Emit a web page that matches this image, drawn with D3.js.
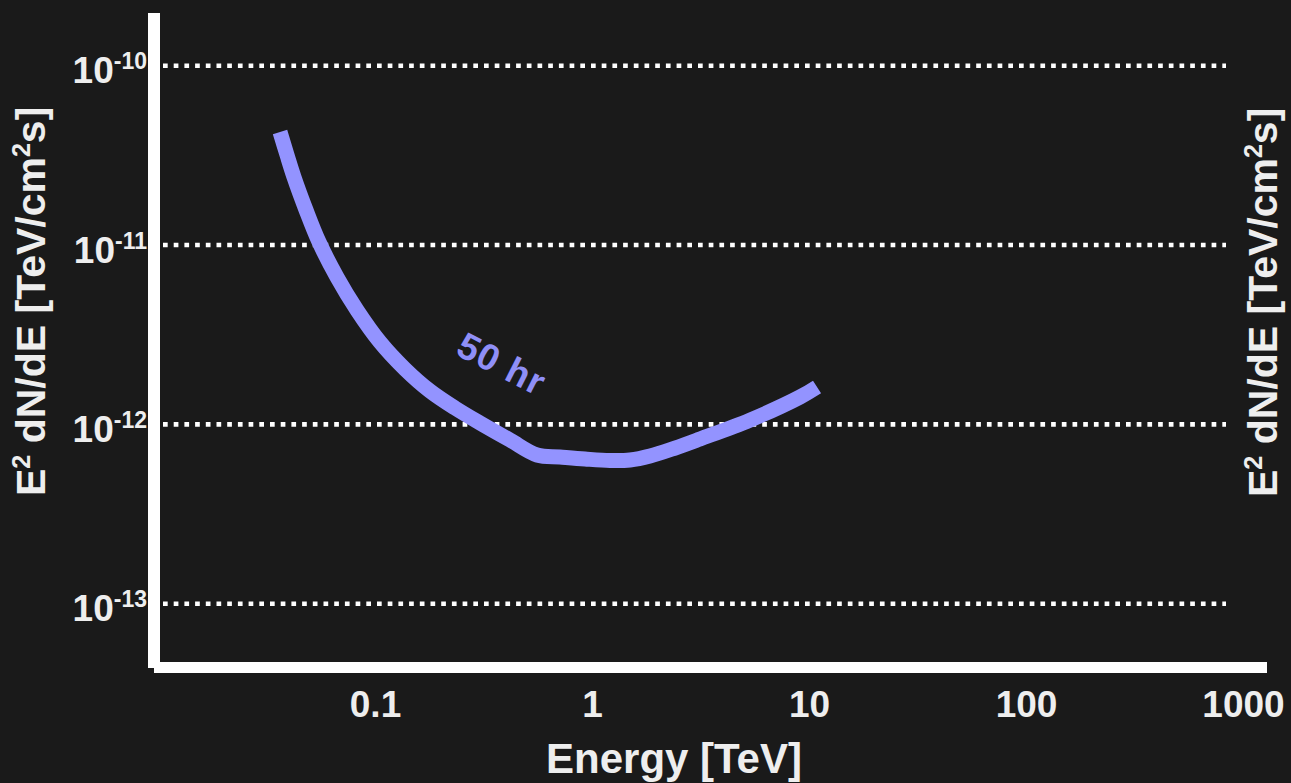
<!DOCTYPE html>
<html>
<head>
<meta charset="UTF-8">
<title>Sensitivity 50 hr</title>
<script src="https://d3js.org/d3.v7.min.js"></script>
<style>
  html, body { margin: 0; padding: 0; background: #1a1a1a; overflow: hidden; }
  svg { display: block; }
  text { font-family: "Liberation Sans", Arial, sans-serif; font-weight: bold; fill: #eeeeee; }
</style>
</head>
<body>
<svg id="chart" width="1291" height="783"></svg>
<script>
// --- data ---
const energy = [0.0365, 0.0393, 0.0423, 0.0481, 0.0552, 0.0668, 0.0826, 0.1054, 0.1375, 0.1793, 0.2337, 0.3047,
                0.4188, 0.5578, 0.7119, 0.9284, 1.210, 1.497, 1.851, 2.413, 3.146, 5.349, 9.09, 10.89];
const flux   = [4.27e-11, 3.18e-11, 2.40e-11, 1.568e-11, 1.040e-11, 6.63e-12, 4.34e-12, 2.88e-12, 2.035e-12, 1.535e-12, 1.234e-12, 1.018e-12,
                8.18e-13, 6.75e-13, 6.58e-13, 6.41e-13, 6.29e-13, 6.33e-13, 6.66e-13, 7.38e-13, 8.29e-13, 1.057e-12, 1.421e-12, 1.616e-12];
const xTicks = [0.1, 1, 10, 100, 1000];
const xTickLabels = ["0.1", "1", "10", "100", "1000"];
const yTicks = [1e-10, 1e-11, 1e-12, 1e-13];
const yTickExp = ["-10", "-11", "-12", "-13"];
const curveLabel = { text: "50 hr", e: 0.361, f: 1.88e-12 };

const svg = d3.select("#chart");

// scales (log-log)
const x = d3.scaleLog().domain([0.1, 1000]).range([375, 1243]);
const y = d3.scaleLog().domain([1e-13, 1e-10]).range([603.7, 65.7]);

// dotted gridlines
svg.append("g").selectAll("line")
  .data(yTicks).join("line")
  .attr("x1", 163).attr("x2", 1226)
  .attr("y1", d => y(d)).attr("y2", d => y(d))
  .attr("stroke", "#ffffff")
  .attr("stroke-width", 4.6)
  .attr("stroke-dasharray", "4.7 6");

// axis lines
svg.append("line").attr("x1", 154).attr("x2", 154).attr("y1", 13).attr("y2", 668)
  .attr("stroke", "#ffffff").attr("stroke-width", 12);
svg.append("line").attr("x1", 154).attr("x2", 1267).attr("y1", 667.5).attr("y2", 667.5)
  .attr("stroke", "#ffffff").attr("stroke-width", 11);

// x tick labels via axis generator
const xAxis = d3.axisBottom(x).tickValues(xTicks)
  .tickFormat((d, i) => xTickLabels[i]).tickSize(0).tickPadding(0);
const gx = svg.append("g").attr("transform", "translate(0,690)").call(xAxis);
gx.select(".domain").remove();
gx.selectAll("text")
  .attr("y", 27).attr("dy", null)
  .style("font-family", '"Liberation Sans", Arial, sans-serif')
  .style("font-weight", "bold")
  .style("font-size", "37px")
  .attr("fill", "#eeeeee");

// y tick labels: 10^exp
const yAxis = d3.axisLeft(y).tickValues(yTicks).tickFormat("").tickSize(0);
const gy = svg.append("g").attr("transform", "translate(147,0)").call(yAxis);
gy.select(".domain").remove();
gy.selectAll(".tick text").remove();
gy.selectAll(".tick").append("text")
  .attr("text-anchor", "end")
  .attr("y", 17)
  .style("font-size", "37px")
  .each(function(d, i) {
    const t = d3.select(this);
    t.append("tspan").text("10");
    t.append("tspan").attr("dy", -14).style("font-size", "23px").text(yTickExp[i]);
  });

// curve
const line = d3.line()
  .x(d => x(d[0]))
  .y(d => y(d[1]))
  .curve(d3.curveCatmullRom.alpha(0.5));
svg.append("path")
  .datum(energy.map((e, i) => [e, flux[i]]))
  .attr("d", line)
  .attr("fill", "none")
  .attr("stroke", "#9393ff")
  .attr("stroke-width", 15)
  .attr("stroke-linecap", "butt")
  .attr("stroke-linejoin", "round");

svg.append("text")
  .attr("transform", `translate(${x(curveLabel.e)},${y(curveLabel.f)}) rotate(27)`)
  .attr("text-anchor", "middle")
  .style("font-size", "37px")
  .style("letter-spacing", "1px")
  .style("fill", "#8f8ff7")
  .text(curveLabel.text);

// axis titles
svg.append("text")
  .attr("x", 674).attr("y", 773)
  .attr("text-anchor", "middle")
  .style("font-size", "42px")
  .text("Energy [TeV]");

function yTitle(bx, by) {
  const t = svg.append("text")
    .attr("transform", `translate(${bx},${by}) rotate(-90)`)
    .attr("text-anchor", "start")
    .style("font-size", "41px");
  t.append("tspan").text("E");
  t.append("tspan").attr("dy", -15).style("font-size", "25px").text("2");
  t.append("tspan").attr("dy", 15).text(" dN/dE [TeV/cm");
  t.append("tspan").attr("dy", -15).style("font-size", "25px").text("2");
  t.append("tspan").attr("dy", 15).text("s]");
}
yTitle(45, 496);
yTitle(1277, 497);
</script>
</body>
</html>
